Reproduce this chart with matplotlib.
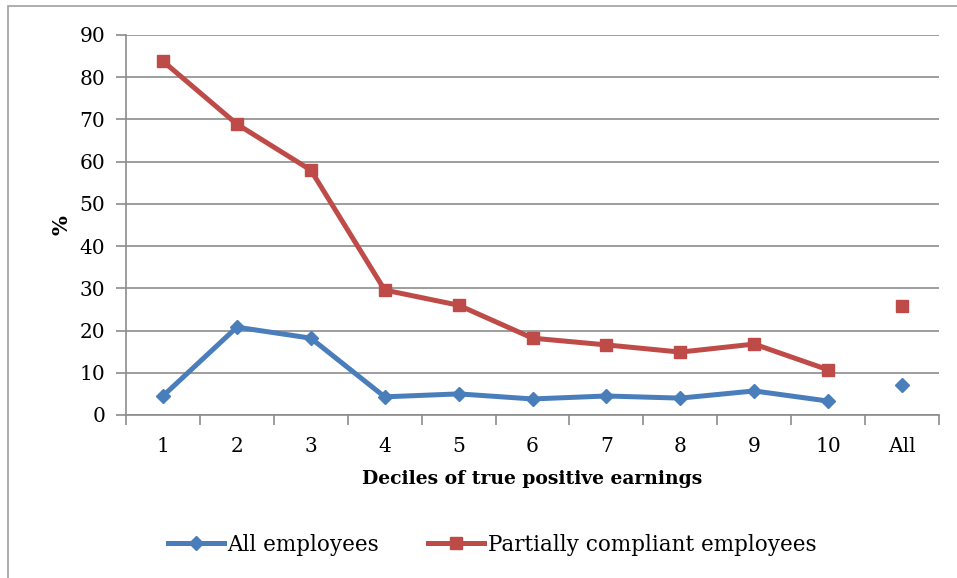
import matplotlib
matplotlib.use('Agg')
import matplotlib.pyplot as plt
from matplotlib.patches import Rectangle
from matplotlib.lines import Line2D

plt.rcParams['font.family'] = ['DejaVu Serif']

categorias = ['1', '2', '3', '4', '5', '6', '7', '8', '9', '10', 'All']
todos = [4.5, 20.8, 18.2, 4.3, 5.0, 3.8, 4.5, 4.0, 5.7, 3.3]
todos_all = 7.1
parciais = [83.8, 68.9, 58.0, 29.6, 26.0, 18.2, 16.6, 14.9, 16.8, 10.7]
parciais_all = 25.8

azul = '#4A7EBB'
vermelho = '#BE4B48'
cinza = '#8C8C8C'

fig = plt.figure(figsize=(9.57, 5.78), dpi=100)
ax = fig.add_axes([126 / 957, 1 - 415 / 578, (939 - 126) / 957, (415 - 35) / 578])

# moldura do grafico (estilo Excel)
fig.patches.append(Rectangle((8 / 957, -0.05), 1.1, 1 - 6 / 578 + 0.05,
                             transform=fig.transFigure, fill=False,
                             edgecolor='#A0A0A0', linewidth=1.2))

x = list(range(len(todos)))
ax.plot(x, todos, color=azul, lw=3.6, marker='D', ms=7, zorder=3)
ax.plot(x, parciais, color=vermelho, lw=3.6, marker='s', ms=8.5, zorder=3)
ax.plot([10], [todos_all], color=azul, marker='D', ms=7, ls='none', zorder=3)
ax.plot([10], [parciais_all], color=vermelho, marker='s', ms=8.5, ls='none', zorder=3)

ax.set_xlim(-0.5, 10.5)
ax.set_ylim(0, 90)
ax.set_yticks(range(0, 91, 10))
ax.set_xticks(range(11))
ax.set_xticklabels(categorias)
ax.set_xticks([i - 0.5 for i in range(12)], minor=True)
ax.tick_params(axis='x', which='major', length=0, pad=16, labelsize=14.5)
ax.tick_params(axis='x', which='minor', length=7, color=cinza, width=1.2)
ax.tick_params(axis='y', length=7, color=cinza, width=1.2, labelsize=14.5, pad=8)

ax.grid(axis='y', color=cinza, lw=1.2)
ax.set_axisbelow(True)
for lado in ['top', 'right']:
    ax.spines[lado].set_visible(False)
for lado in ['left', 'bottom']:
    ax.spines[lado].set_color(cinza)
    ax.spines[lado].set_linewidth(1.2)

ax.set_xlabel('Deciles of true positive earnings', fontsize=13.5, fontweight='bold', labelpad=10)
ax.set_ylabel('%', fontsize=15, fontweight='bold', labelpad=6)

handles = [Line2D([], [], color=azul, lw=3.6, marker='D', ms=7),
           Line2D([], [], color=vermelho, lw=3.6, marker='s', ms=8.5)]
fig.legend(handles, ['All employees', 'Partially compliant employees'],
           loc='center', bbox_to_anchor=(492 / 957, 1 - 545 / 578), ncol=2,
           frameon=False, fontsize=15.5, handlelength=2.6, handletextpad=0.15,
           columnspacing=2.3)

fig.savefig('out.png', dpi=100)
